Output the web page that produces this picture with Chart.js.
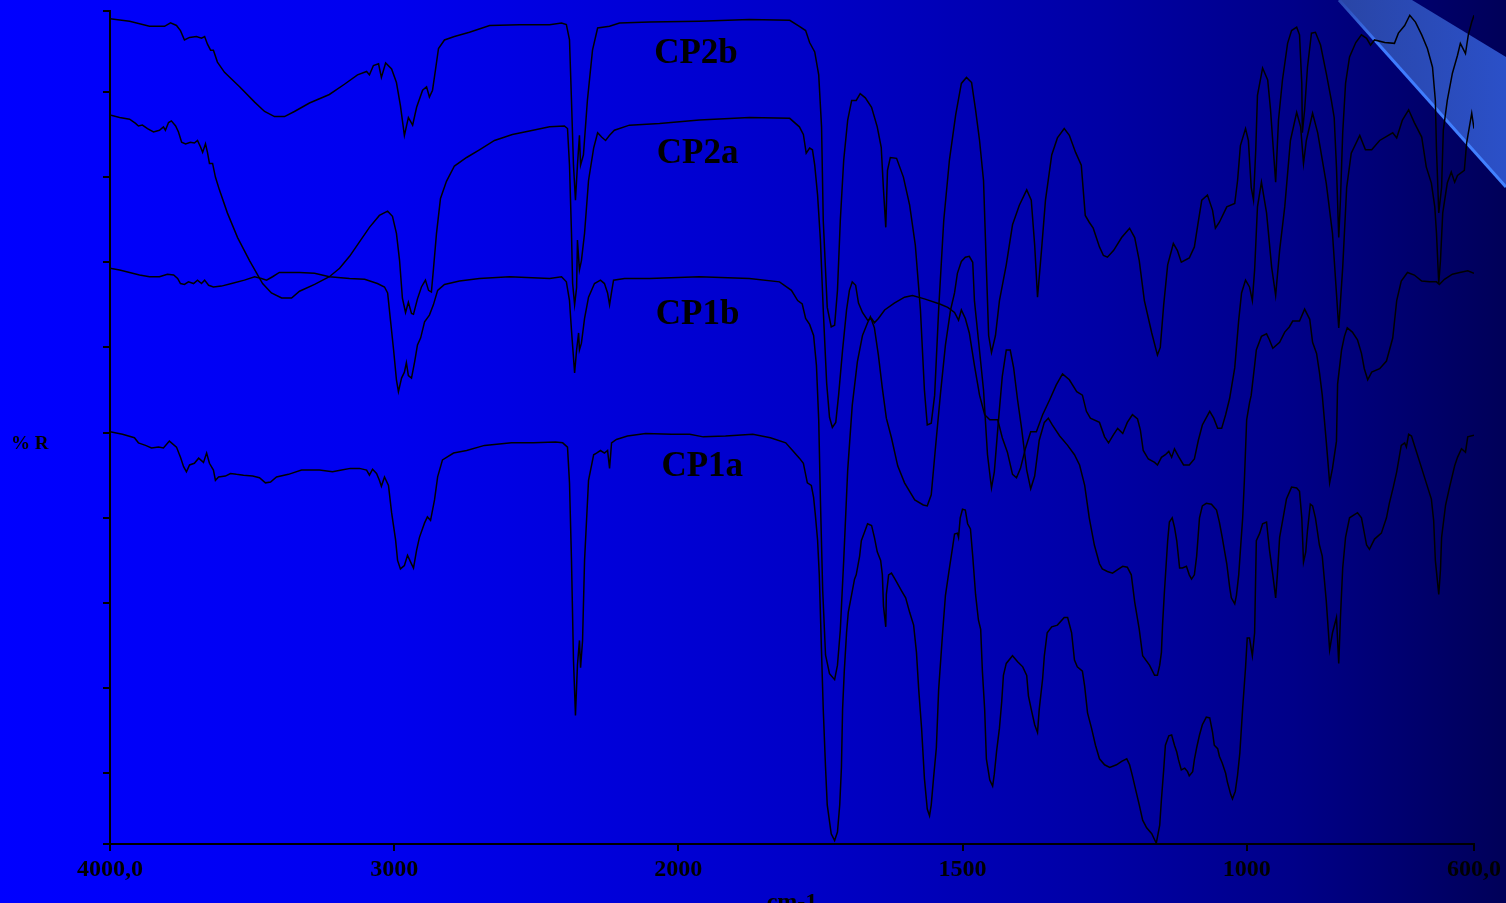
<!DOCTYPE html>
<html>
<head>
<meta charset="utf-8">
<title>IR spectra CP1a CP1b CP2a CP2b</title>
<script src="https://cdn.jsdelivr.net/npm/chart.js@4.4.1/dist/chart.umd.min.js"></script>
<style>
  html, body { margin: 0; padding: 0; }
  body {
    width: 1506px; height: 903px; overflow: hidden; position: relative;
    background: linear-gradient(to right, #0000ff 0%, #0000ee 26%, #0000c8 53%, #0000a5 73%, #000088 86%, #000058 100%);
  }
  #deco, #chart { position: absolute; left: 0; top: 0; }
</style>
</head>
<body>
<svg id="deco" width="1506" height="903">
  <defs>
    <linearGradient id="band" x1="1339" y1="0" x2="1506" y2="0" gradientUnits="userSpaceOnUse">
      <stop offset="0" stop-color="#2945a6"/>
      <stop offset="1" stop-color="#2b50c8"/>
    </linearGradient>
    <linearGradient id="edge" x1="1339" y1="0" x2="1506" y2="187" gradientUnits="userSpaceOnUse">
      <stop offset="0" stop-color="#2a48b0"/>
      <stop offset="0.25" stop-color="#3f7bff"/>
      <stop offset="1" stop-color="#4282ff"/>
    </linearGradient>
  </defs>
  <polygon points="1339,0 1412,0 1506,57 1506,187" fill="url(#band)"/>
  <line x1="1339" y1="0" x2="1506" y2="187" stroke="url(#edge)" stroke-width="3"/>
</svg>
<canvas id="chart" width="1506" height="903"></canvas>
<script>
// spectra: [wavenumber cm-1, %R]
const seriesNames = ['CP2b', 'CP2a', 'CP1b', 'CP1a'];
const xTickValues = [4000, 3000, 2000, 1500, 1000, 600];
const xTickLabels = ['4000,0', '3000', '2000', '1500', '1000', '600,0'];
const yTickValues = [1.7, 10, 20, 30, 40, 50, 60, 70, 80, 90, 99.5];

const cp2b = [
  [4000, 98.6], [3931, 98.3], [3861, 97.7], [3808, 97.7], [3787, 98.1], [3766, 97.8], [3752, 97.2], [3738, 96.1],
  [3720, 96.4], [3696, 96.5], [3678, 96.3], [3667, 96.5], [3657, 95.6], [3646, 94.9], [3636, 94.9], [3622, 93.5],
  [3597, 92.3], [3544, 90.6], [3491, 88.8], [3456, 87.7], [3421, 87.1], [3386, 87.1], [3351, 87.7], [3298, 88.7],
  [3228, 89.7], [3175, 90.9], [3129, 92.0], [3097, 92.4], [3087, 92.0], [3073, 93.1], [3055, 93.3], [3045, 91.7],
  [3030, 93.4], [3009, 92.7], [2992, 91.1], [2978, 88.4], [2964, 84.9], [2950, 87.0], [2935, 86.1], [2921, 88.2],
  [2900, 90.2], [2886, 90.6], [2876, 89.4], [2865, 90.2], [2855, 92.5], [2844, 95.1], [2823, 96.1], [2788, 96.5],
  [2735, 97.0], [2664, 97.8], [2559, 97.9], [2453, 97.9], [2411, 98.1], [2394, 97.9], [2383, 96.1], [2376, 89.0],
  [2369, 81.4], [2362, 77.3], [2355, 81.4], [2348, 84.9], [2344, 81.4], [2334, 82.6], [2320, 89.0], [2302, 94.9],
  [2284, 97.5], [2242, 97.7], [2207, 98.1], [2101, 98.2], [1963, 98.3], [1875, 98.5], [1804, 98.4], [1787, 97.7],
  [1776, 97.2], [1769, 95.8], [1760, 94.7], [1753, 92.0], [1748, 85.9], [1745, 74.9], [1738, 64.7], [1731, 62.4],
  [1725, 62.6], [1720, 66.7], [1715, 74.9], [1709, 82.0], [1702, 86.7], [1695, 89.0], [1687, 89.0], [1680, 89.8],
  [1671, 89.3], [1660, 88.2], [1650, 85.9], [1643, 83.5], [1639, 78.5], [1635, 74.1], [1632, 80.8], [1627, 82.3],
  [1616, 82.2], [1604, 80.0], [1593, 76.7], [1583, 72.0], [1574, 64.4], [1567, 55.0], [1562, 50.9], [1555, 51.1],
  [1549, 54.4], [1542, 64.4], [1533, 74.9], [1523, 82.0], [1512, 87.3], [1502, 91.0], [1493, 91.7], [1484, 91.1],
  [1477, 87.9], [1470, 84.3], [1463, 79.6], [1458, 69.4], [1454, 61.4], [1449, 59.4], [1442, 61.4], [1435, 65.5],
  [1423, 69.7], [1412, 74.4], [1400, 76.7], [1387, 78.5], [1379, 77.3], [1373, 72.0], [1368, 65.9], [1361, 71.4],
  [1354, 77.3], [1343, 82.6], [1333, 84.6], [1321, 85.7], [1312, 84.9], [1301, 82.9], [1291, 81.4], [1284, 75.5],
  [1277, 74.7], [1270, 74.0], [1259, 71.8], [1252, 70.8], [1245, 70.6], [1234, 71.4], [1220, 72.9], [1206, 74.0],
  [1197, 72.9], [1189, 70.2], [1180, 65.5], [1167, 61.7], [1157, 59.1], [1152, 60.0], [1146, 65.0], [1139, 69.7],
  [1129, 72.2], [1122, 71.4], [1115, 70.0], [1101, 70.5], [1092, 71.8], [1086, 74.4], [1079, 77.3], [1069, 77.9],
  [1060, 76.1], [1055, 74.0], [1048, 74.7], [1035, 76.5], [1021, 76.9], [1016, 79.6], [1011, 83.7], [1002, 85.7],
  [997, 84.3], [992, 78.8], [988, 77.3], [984, 83.2], [981, 89.6], [972, 92.8], [963, 91.4], [958, 87.9],
  [949, 79.4], [944, 86.7], [937, 91.4], [928, 95.7], [921, 97.2], [912, 97.6], [907, 96.7], [903, 91.0],
  [902, 85.2], [898, 87.9], [893, 92.9], [886, 96.9], [879, 97.0], [870, 95.5], [860, 92.2], [851, 89.0],
  [846, 87.0], [842, 81.2], [838, 72.9], [835, 77.3], [831, 85.2], [826, 91.0], [819, 94.1], [808, 95.8],
  [798, 96.7], [789, 96.3], [782, 95.5], [775, 96.1], [757, 95.8], [740, 95.7], [733, 96.9], [722, 97.8],
  [713, 99.0], [703, 98.2], [692, 96.7], [682, 95.1], [673, 92.9], [668, 89.0], [666, 83.2], [662, 75.8],
  [657, 78.8], [654, 85.5], [647, 89.0], [638, 92.2], [629, 94.3], [624, 95.7], [618, 94.9], [615, 94.5],
  [610, 96.7], [604, 98.2], [600, 99.0]
];

const cp2a = [
  [4000, 87.3], [3966, 87.0], [3931, 86.8], [3910, 86.3], [3900, 86.0], [3886, 86.1], [3868, 85.7], [3847, 85.3],
  [3826, 85.5], [3812, 85.9], [3805, 85.5], [3794, 86.4], [3784, 86.6], [3769, 86.0], [3759, 85.3], [3748, 84.1],
  [3734, 83.9], [3717, 84.1], [3703, 84.0], [3692, 84.3], [3681, 83.5], [3674, 82.9], [3664, 83.9], [3657, 82.9],
  [3650, 81.6], [3639, 81.6], [3629, 80.0], [3615, 78.5], [3587, 75.8], [3551, 72.9], [3509, 70.2], [3463, 67.5],
  [3432, 66.4], [3396, 65.8], [3361, 65.8], [3333, 66.6], [3280, 67.4], [3228, 68.3], [3192, 69.3], [3157, 70.7],
  [3122, 72.4], [3087, 74.1], [3052, 75.5], [3023, 76.0], [3006, 75.4], [2992, 73.4], [2981, 70.2], [2971, 65.8],
  [2960, 64.1], [2950, 65.3], [2939, 64.0], [2932, 63.9], [2918, 65.7], [2904, 67.1], [2890, 67.9], [2879, 66.7],
  [2869, 66.5], [2862, 69.1], [2851, 73.4], [2837, 77.5], [2816, 79.5], [2788, 81.3], [2745, 82.3], [2700, 83.2],
  [2647, 84.3], [2584, 85.0], [2524, 85.4], [2453, 85.9], [2401, 86.0], [2390, 85.7], [2383, 81.4], [2376, 73.4],
  [2372, 67.5], [2365, 65.0], [2358, 67.0], [2355, 72.6], [2348, 69.1], [2341, 70.2], [2330, 73.4], [2316, 79.6],
  [2298, 83.4], [2284, 85.2], [2270, 84.7], [2256, 84.3], [2242, 84.9], [2225, 85.5], [2172, 86.1], [2066, 86.3],
  [1963, 86.7], [1875, 87.0], [1804, 86.9], [1787, 85.9], [1780, 85.0], [1775, 82.8], [1769, 83.4], [1764, 83.2],
  [1760, 81.4], [1755, 77.9], [1750, 72.6], [1745, 64.4], [1739, 55.8], [1734, 51.8], [1729, 50.6], [1723, 51.2],
  [1718, 54.4], [1711, 59.7], [1704, 64.4], [1699, 66.7], [1694, 67.7], [1688, 67.3], [1683, 65.2], [1676, 64.1],
  [1667, 63.2], [1660, 63.4], [1655, 62.9], [1648, 63.4], [1637, 64.4], [1620, 65.2], [1602, 65.9], [1588, 66.1],
  [1567, 65.7], [1540, 65.1], [1526, 64.7], [1514, 64.1], [1507, 63.2], [1502, 64.4], [1495, 63.4], [1488, 61.7],
  [1479, 57.9], [1470, 54.4], [1461, 52.1], [1452, 51.5], [1438, 51.5], [1430, 49.4], [1421, 47.7], [1412, 45.1],
  [1405, 44.7], [1398, 45.8], [1389, 48.2], [1380, 50.1], [1370, 50.1], [1359, 52.1], [1347, 53.8], [1335, 55.6],
  [1324, 56.9], [1312, 56.2], [1299, 54.8], [1289, 54.4], [1282, 52.5], [1275, 51.7], [1259, 51.2], [1250, 49.5],
  [1243, 48.8], [1234, 49.8], [1227, 50.5], [1218, 49.9], [1210, 51.2], [1201, 52.1], [1192, 51.6], [1187, 50.3],
  [1182, 47.9], [1173, 46.9], [1162, 46.5], [1157, 46.2], [1150, 47.1], [1143, 47.4], [1137, 47.8], [1132, 47.1],
  [1127, 48.1], [1120, 47.2], [1111, 46.2], [1101, 46.2], [1092, 46.9], [1085, 49.1], [1078, 50.9], [1065, 52.5],
  [1058, 51.7], [1051, 50.5], [1044, 50.5], [1037, 52.1], [1030, 54.0], [1021, 57.6], [1014, 63.2], [1009, 66.4],
  [1002, 67.9], [995, 67.1], [990, 65.5], [986, 69.1], [981, 76.5], [974, 79.4], [965, 75.8], [956, 69.4],
  [949, 66.1], [942, 71.4], [933, 76.5], [923, 84.3], [912, 87.6], [905, 85.9], [900, 81.6], [895, 84.3],
  [884, 87.5], [875, 85.2], [860, 79.3], [849, 73.4], [838, 62.3], [831, 69.4], [824, 78.8], [816, 82.8],
  [801, 84.9], [791, 83.2], [780, 83.2], [766, 84.3], [743, 85.2], [736, 84.6], [726, 86.7], [715, 87.9],
  [705, 86.4], [692, 84.7], [684, 81.2], [675, 79.3], [669, 76.5], [666, 73.4], [662, 67.5], [659, 70.2],
  [655, 75.8], [647, 79.3], [640, 80.6], [634, 79.4], [629, 80.2], [617, 80.8], [613, 84.0], [604, 87.5],
  [600, 85.7]
];

const cp1b = [
  [4000, 69.3], [3966, 69.1], [3931, 68.8], [3896, 68.5], [3861, 68.3], [3826, 68.3], [3798, 68.6], [3776, 68.5],
  [3762, 68.1], [3752, 67.5], [3738, 67.4], [3724, 67.7], [3706, 67.5], [3692, 67.9], [3678, 67.5], [3667, 67.9],
  [3653, 67.3], [3636, 67.1], [3608, 67.2], [3572, 67.5], [3527, 67.9], [3491, 68.3], [3467, 68.1], [3449, 67.9],
  [3428, 68.3], [3404, 68.8], [3333, 68.8], [3280, 68.7], [3228, 68.3], [3157, 68.1], [3104, 68.0], [3059, 67.5],
  [3034, 67.1], [3023, 66.4], [3013, 63.2], [3002, 59.7], [2992, 56.2], [2985, 54.8], [2974, 56.4], [2964, 57.1],
  [2957, 58.2], [2950, 56.7], [2939, 56.4], [2928, 58.3], [2918, 60.3], [2907, 61.1], [2893, 63.0], [2876, 63.8],
  [2862, 65.0], [2847, 66.7], [2823, 67.4], [2770, 67.8], [2700, 68.1], [2594, 68.3], [2453, 68.1], [2411, 68.3],
  [2394, 67.7], [2383, 65.5], [2376, 62.0], [2365, 57.0], [2358, 59.7], [2351, 61.7], [2348, 59.7], [2341, 60.5],
  [2330, 63.4], [2316, 65.9], [2295, 67.5], [2274, 67.9], [2260, 67.5], [2249, 66.4], [2242, 65.0], [2235, 66.5],
  [2228, 67.9], [2189, 68.1], [2101, 68.1], [1963, 68.3], [1875, 68.1], [1822, 67.7], [1801, 66.7], [1790, 65.5],
  [1782, 65.1], [1776, 63.4], [1769, 62.7], [1762, 61.4], [1757, 57.9], [1753, 51.5], [1750, 42.1], [1746, 31.5],
  [1741, 23.9], [1734, 21.7], [1725, 21.0], [1720, 22.7], [1715, 26.8], [1709, 35.0], [1702, 45.6], [1694, 53.2],
  [1685, 58.3], [1676, 61.4], [1667, 62.9], [1662, 63.6], [1655, 62.3], [1648, 59.1], [1641, 55.2], [1634, 51.7],
  [1625, 49.4], [1614, 46.1], [1602, 44.1], [1584, 42.1], [1569, 41.5], [1562, 41.4], [1555, 42.7], [1548, 47.9],
  [1539, 54.4], [1530, 60.3], [1521, 64.4], [1514, 66.4], [1509, 68.7], [1502, 70.1], [1495, 70.6], [1488, 70.7],
  [1482, 70.0], [1479, 65.5], [1472, 60.9], [1463, 55.0], [1456, 47.4], [1449, 43.5], [1444, 45.4], [1437, 51.2],
  [1430, 56.6], [1423, 59.7], [1416, 59.7], [1410, 57.6], [1403, 53.8], [1396, 50.5], [1387, 45.6], [1380, 43.4],
  [1373, 44.9], [1365, 49.1], [1356, 51.2], [1349, 51.7], [1342, 50.9], [1329, 49.6], [1315, 48.5], [1303, 47.4],
  [1294, 46.2], [1285, 43.8], [1277, 40.0], [1268, 36.8], [1259, 34.6], [1254, 34.0], [1245, 33.7], [1236, 33.5],
  [1227, 33.9], [1218, 34.3], [1210, 34.2], [1203, 33.3], [1197, 30.1], [1189, 26.9], [1183, 23.8], [1171, 22.7],
  [1162, 21.5], [1157, 21.5], [1153, 22.7], [1150, 24.2], [1148, 27.4], [1145, 31.0], [1139, 37.3], [1136, 39.5],
  [1131, 40.0], [1127, 38.9], [1123, 37.3], [1118, 34.1], [1113, 34.1], [1106, 34.3], [1101, 33.3], [1097, 32.8],
  [1092, 33.3], [1088, 35.5], [1083, 40.0], [1078, 41.4], [1071, 41.7], [1062, 41.6], [1053, 40.9], [1048, 39.5],
  [1043, 37.7], [1035, 34.6], [1030, 31.9], [1027, 30.6], [1021, 29.9], [1018, 30.9], [1014, 33.3], [1011, 36.2],
  [1007, 40.0], [1004, 44.4], [1000, 51.5], [995, 53.5], [992, 54.4], [986, 57.9], [983, 59.7], [974, 61.3],
  [965, 61.6], [960, 60.9], [954, 59.9], [942, 60.6], [933, 61.8], [925, 62.4], [919, 63.1], [907, 63.1],
  [898, 64.5], [889, 63.3], [884, 60.6], [877, 59.3], [872, 57.1], [867, 54.4], [860, 49.0], [854, 44.1],
  [849, 45.8], [842, 49.0], [840, 55.7], [833, 59.7], [828, 61.3], [823, 62.3], [814, 61.8], [805, 60.9],
  [798, 59.3], [793, 57.5], [787, 56.2], [780, 57.1], [766, 57.5], [754, 58.4], [743, 61.1], [736, 65.5],
  [728, 67.8], [717, 68.8], [705, 68.5], [692, 67.8], [678, 67.7], [666, 67.7], [661, 67.4], [652, 68.0],
  [638, 68.6], [625, 68.8], [611, 69.0], [600, 68.7]
];

const cp1a = [
  [4000, 50.1], [3956, 49.8], [3914, 49.4], [3900, 48.8], [3875, 48.5], [3854, 48.2], [3829, 48.3], [3812, 48.2],
  [3791, 49.0], [3766, 48.3], [3752, 47.1], [3741, 46.0], [3731, 45.4], [3720, 46.2], [3703, 46.4], [3688, 47.0],
  [3671, 46.5], [3660, 47.6], [3650, 46.4], [3636, 45.6], [3629, 44.4], [3618, 44.8], [3594, 44.9], [3576, 45.2],
  [3555, 45.1], [3530, 45.0], [3498, 44.9], [3474, 44.7], [3453, 44.1], [3435, 44.2], [3414, 44.8], [3372, 45.1],
  [3326, 45.6], [3263, 45.6], [3217, 45.4], [3185, 45.6], [3154, 45.8], [3122, 45.8], [3097, 45.6], [3087, 45.0],
  [3076, 45.7], [3062, 45.2], [3052, 44.4], [3045, 43.7], [3034, 44.8], [3020, 43.8], [3009, 40.6], [2995, 37.4],
  [2988, 35.0], [2978, 34.0], [2964, 34.4], [2953, 35.6], [2942, 34.8], [2932, 34.1], [2921, 36.2], [2911, 37.7],
  [2893, 39.4], [2883, 40.1], [2872, 39.7], [2858, 42.1], [2847, 44.8], [2830, 46.8], [2791, 47.6], [2745, 47.9],
  [2682, 48.5], [2587, 48.8], [2510, 48.8], [2432, 48.9], [2407, 48.8], [2390, 48.3], [2383, 44.1], [2376, 35.0],
  [2369, 23.3], [2362, 16.8], [2355, 22.7], [2348, 25.6], [2344, 22.4], [2337, 25.6], [2330, 35.0], [2316, 44.4],
  [2298, 47.4], [2288, 47.6], [2274, 47.9], [2260, 47.6], [2249, 47.9], [2242, 45.8], [2235, 48.8], [2218, 49.2],
  [2179, 49.6], [2115, 49.9], [2024, 49.8], [1980, 49.8], [1956, 49.5], [1917, 49.6], [1869, 49.8], [1838, 49.4],
  [1811, 48.8], [1799, 47.9], [1787, 47.0], [1780, 46.4], [1773, 44.1], [1766, 43.8], [1762, 42.4], [1759, 40.4],
  [1755, 37.4], [1752, 33.3], [1748, 24.2], [1745, 17.5], [1741, 10.7], [1738, 6.3], [1731, 2.9], [1725, 2.1],
  [1720, 3.1], [1716, 6.3], [1713, 10.7], [1711, 17.5], [1708, 22.0], [1704, 26.5], [1701, 28.9], [1695, 31.0],
  [1690, 32.8], [1687, 33.3], [1681, 35.5], [1678, 37.3], [1672, 38.4], [1667, 39.3], [1660, 39.1], [1655, 37.7],
  [1650, 36.0], [1644, 35.0], [1641, 33.3], [1639, 29.6], [1635, 27.2], [1634, 31.0], [1630, 33.3], [1625, 33.5],
  [1618, 32.7], [1607, 31.4], [1600, 30.6], [1593, 28.9], [1586, 27.4], [1581, 24.2], [1577, 19.8], [1572, 15.3],
  [1567, 9.4], [1562, 5.8], [1558, 5.0], [1555, 6.3], [1551, 9.4], [1546, 13.0], [1542, 19.8], [1535, 26.5],
  [1530, 30.9], [1523, 34.1], [1518, 36.3], [1514, 38.1], [1509, 38.2], [1507, 37.7], [1504, 40.0], [1500, 41.0],
  [1495, 40.9], [1491, 39.3], [1486, 38.7], [1482, 35.5], [1477, 31.0], [1472, 28.0], [1468, 26.9], [1465, 22.0],
  [1461, 17.5], [1458, 11.7], [1452, 9.2], [1447, 8.5], [1444, 9.9], [1440, 12.6], [1435, 15.3], [1431, 18.4],
  [1428, 21.5], [1423, 22.9], [1412, 23.8], [1403, 23.1], [1394, 22.5], [1387, 21.5], [1384, 19.1], [1379, 17.5],
  [1373, 15.7], [1368, 14.8], [1365, 17.5], [1359, 21.1], [1356, 23.8], [1351, 26.5], [1343, 27.2], [1333, 27.4],
  [1321, 28.3], [1315, 28.3], [1308, 26.5], [1303, 23.3], [1298, 22.5], [1289, 22.0], [1285, 20.2], [1280, 17.1],
  [1273, 15.3], [1266, 13.3], [1259, 11.7], [1250, 11.0], [1241, 10.7], [1229, 11.0], [1220, 11.4], [1211, 11.7],
  [1206, 11.0], [1201, 9.7], [1194, 7.7], [1189, 6.3], [1183, 4.5], [1176, 3.6], [1167, 2.9], [1162, 2.2],
  [1159, 1.8], [1153, 3.9], [1150, 6.9], [1146, 10.4], [1143, 13.3], [1137, 14.4], [1132, 14.5], [1127, 13.3],
  [1123, 12.5], [1120, 11.6], [1115, 10.4], [1109, 10.6], [1104, 10.2], [1101, 9.7], [1095, 10.2], [1092, 11.6],
  [1088, 13.0], [1083, 14.5], [1078, 15.7], [1071, 16.6], [1065, 16.5], [1060, 14.8], [1057, 13.3], [1051, 12.9],
  [1048, 12.0], [1043, 11.2], [1037, 10.0], [1034, 9.0], [1028, 7.5], [1025, 7.0], [1020, 7.9], [1016, 9.8],
  [1012, 12.4], [1007, 17.7], [1002, 22.4], [999, 25.9], [995, 25.9], [990, 23.8], [986, 26.5], [983, 37.3],
  [977, 38.2], [972, 39.3], [965, 39.5], [960, 36.3], [954, 33.3], [949, 30.6], [946, 33.3], [942, 37.7],
  [935, 40.3], [930, 42.2], [921, 43.6], [912, 43.5], [907, 43.1], [903, 40.0], [900, 34.8], [896, 36.0],
  [893, 38.5], [888, 41.6], [884, 41.4], [879, 40.0], [872, 36.8], [867, 35.5], [860, 30.3], [854, 24.5],
  [849, 26.5], [842, 28.3], [838, 22.9], [835, 28.3], [831, 34.1], [826, 37.7], [819, 40.0], [805, 40.6],
  [798, 40.0], [789, 36.8], [784, 36.3], [775, 37.5], [763, 38.2], [754, 40.0], [749, 41.7], [742, 43.6],
  [736, 45.4], [728, 48.5], [722, 48.8], [719, 48.3], [715, 49.8], [710, 49.6], [701, 47.7], [692, 45.8],
  [684, 44.1], [675, 42.2], [671, 39.7], [668, 35.0], [662, 31.0], [659, 33.9], [657, 37.7], [650, 41.5],
  [643, 43.6], [634, 46.1], [629, 47.1], [622, 48.1], [615, 47.7], [611, 49.5], [600, 49.7]
];

const spectra = [cp2b, cp2a, cp1b, cp1a];

// the spectrometer halves the scale below 2000 cm-1
function warp(w) { return w >= 2000 ? 4000 - w : 2000 + 2 * (2000 - w); }
function unwarp(u) { return u <= 2000 ? 4000 - u : 2000 - (u - 2000) / 2; }

class WavenumberScale extends Chart.LinearScale {
  static id = 'wavenumber';
  static defaults = Chart.LinearScale.defaults;
  buildTicks() {
    return xTickValues.map(value => ({ value }));
  }
  getPixelForValue(value) {
    const span = warp(this.min) - warp(this.max);
    return this.getPixelForDecimal((warp(value) - warp(this.max)) / span);
  }
  getValueForPixel(pixel) {
    const span = warp(this.min) - warp(this.max);
    return unwarp(warp(this.max) + this.getDecimalForPixel(pixel) * span);
  }
}
Chart.register(WavenumberScale);

const serif = '"Liberation Serif", "Times New Roman", Times, serif';

const textPlugin = {
  id: 'spectrumText',
  afterDatasetsDraw(chart) {
    const { ctx, scales: { x, y } } = chart;
    const spots = [[1969, 93.4], [1966, 81.6], [1966, 62.8], [1958, 44.9]];
    ctx.save();
    ctx.fillStyle = '#000';
    ctx.textAlign = 'center';
    ctx.textBaseline = 'alphabetic';
    ctx.font = 'bold 35px ' + serif;
    seriesNames.forEach((name, i) => {
      ctx.fillText(name, x.getPixelForValue(spots[i][0]), y.getPixelForValue(spots[i][1]));
    });
    ctx.textAlign = 'left';
    ctx.font = 'bold 19px ' + serif;
    ctx.fillText('% R', 11, 449);
    ctx.restore();
  }
};

new Chart(document.getElementById('chart'), {
  type: 'line',
  data: {
    datasets: spectra.map((pts, i) => ({
      label: seriesNames[i],
      data: pts.map(([w, r]) => ({ x: w, y: r })),
      borderColor: '#000',
      borderWidth: 1.5,
      pointRadius: 0,
      tension: 0,
      fill: false
    }))
  },
  options: {
    responsive: false,
    animation: false,
    layout: { padding: { top: 11, right: 32, bottom: 0, left: 0 } },
    plugins: {
      legend: { display: false },
      tooltip: { enabled: false }
    },
    scales: {
      x: {
        type: 'wavenumber',
        position: 'bottom',
        min: 600,
        max: 4000,
        border: { color: '#000', width: 2 },
        grid: { drawOnChartArea: false, color: '#000', lineWidth: 2, tickLength: 7 },
        ticks: {
          color: '#000',
          autoSkip: false,
          maxRotation: 0,
          padding: 4,
          font: { family: serif, size: 24, weight: 'bold' },
          callback: (value, index) => xTickLabels[index]
        },
        title: {
          display: true,
          text: 'cm-1',
          color: '#000',
          padding: { top: 0, bottom: -14 },
          font: { family: serif, size: 24, weight: 'bold' }
        },
        afterFit: axis => { axis.height = 59; }
      },
      y: {
        position: 'left',
        min: 1.7,
        max: 99.5,
        border: { color: '#000', width: 2 },
        grid: { drawOnChartArea: false, color: '#000', lineWidth: 2, tickLength: 7 },
        ticks: { display: false },
        afterBuildTicks: axis => { axis.ticks = yTickValues.map(value => ({ value })); },
        afterFit: axis => { axis.width = 110; }
      }
    }
  },
  plugins: [textPlugin]
});
</script>
</body>
</html>
